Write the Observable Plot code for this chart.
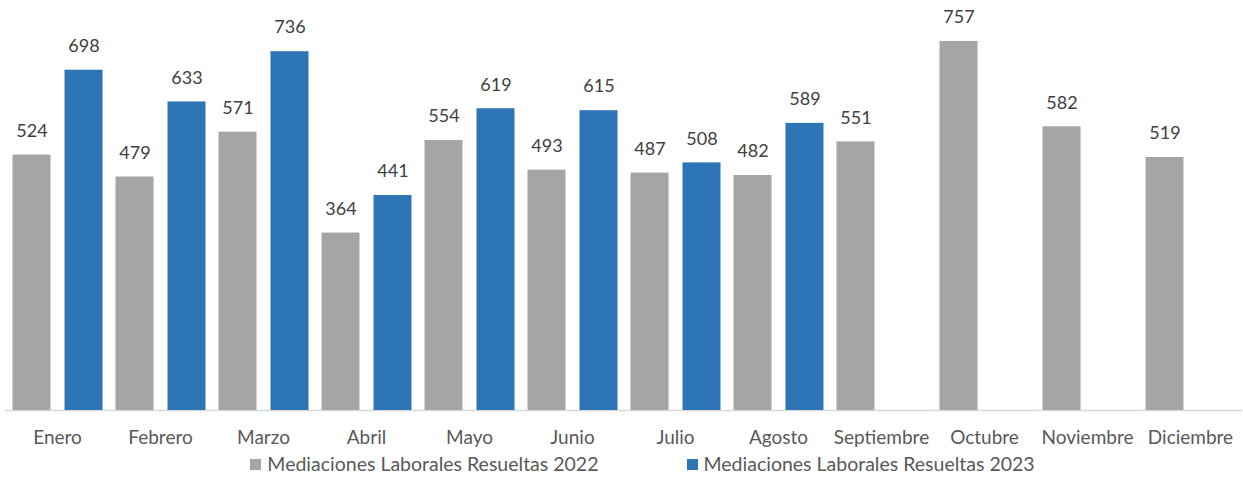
<!DOCTYPE html>
<html><head><meta charset="utf-8">
<script src="https://cdn.jsdelivr.net/npm/d3@7"></script>
<script src="https://cdn.jsdelivr.net/npm/@observablehq/plot@0.6"></script>
<style>
body{margin:0;background:#fff;font-family:Lato,sans-serif;}
#legend{display:flex;justify-content:center;gap:88px;font-size:19.5px;line-height:22px;color:#595959;margin-top:0px;padding-left:42px;}
#legend span.sw{display:inline-block;width:11px;height:11px;margin-right:6px;vertical-align:1px;}
</style></head><body>
<div id="chart"></div>
<div id="legend"></div>
<script>
const months = ["Enero","Febrero","Marzo","Abril","Mayo","Junio","Julio","Agosto","Septiembre","Octubre","Noviembre","Diciembre"];
const series = ["Mediaciones Laborales Resueltas 2022","Mediaciones Laborales Resueltas 2023"];
const values2022 = [524,479,571,364,554,493,487,482,551,757,582,519];
const values2023 = [698,633,736,441,619,615,508,589];
const colors = ["#a5a5a5","#2e75b6"];

const data = [];
months.forEach((m,i)=>{
  data.push({month:m, series:series[0], value:values2022[i]});
  if (i < values2023.length) data.push({month:m, series:series[1], value:values2023[i]});
});

const chart = Plot.plot({
  width: 1243,
  height: 453,
  marginLeft: 5.5,
  marginRight: 1.5,
  marginTop: 20,
  marginBottom: 43,
  style: {fontFamily: "Lato, sans-serif", background: "#fff"},
  fx: {domain: months, paddingInner: 0.126, paddingOuter: 0.063, label: null},
  x: {domain: series, paddingInner: 0.27, paddingOuter: 0, axis: null},
  y: {domain: [0, 800], axis: null},
  color: {domain: series, range: colors},
  marks: [
    Plot.ruleY([0], {stroke: "#d9d9d9", strokeWidth: 1.3, insetLeft: -7, insetRight: -7}),
    Plot.barY(data, {fx: "month", x: "series", y: "value", fill: "series"}),
    Plot.text(data, {fx: "month", x: "series", y: "value", text: d => String(d.value), dy: -24, fill: "#404040", fontSize: 18}),
    Plot.axisFx({anchor: "bottom", tickSize: 0, tickPadding: 20, fontSize: 19, fill: "#595959", label: null})
  ]
});
document.getElementById("chart").appendChild(chart);

const lg = document.getElementById("legend");
series.forEach((s,i)=>{
  const d = document.createElement("div");
  d.innerHTML = `<span class="sw" style="background:${colors[i]}"></span>${s}`;
  lg.appendChild(d);
});
</script>
</body></html>
